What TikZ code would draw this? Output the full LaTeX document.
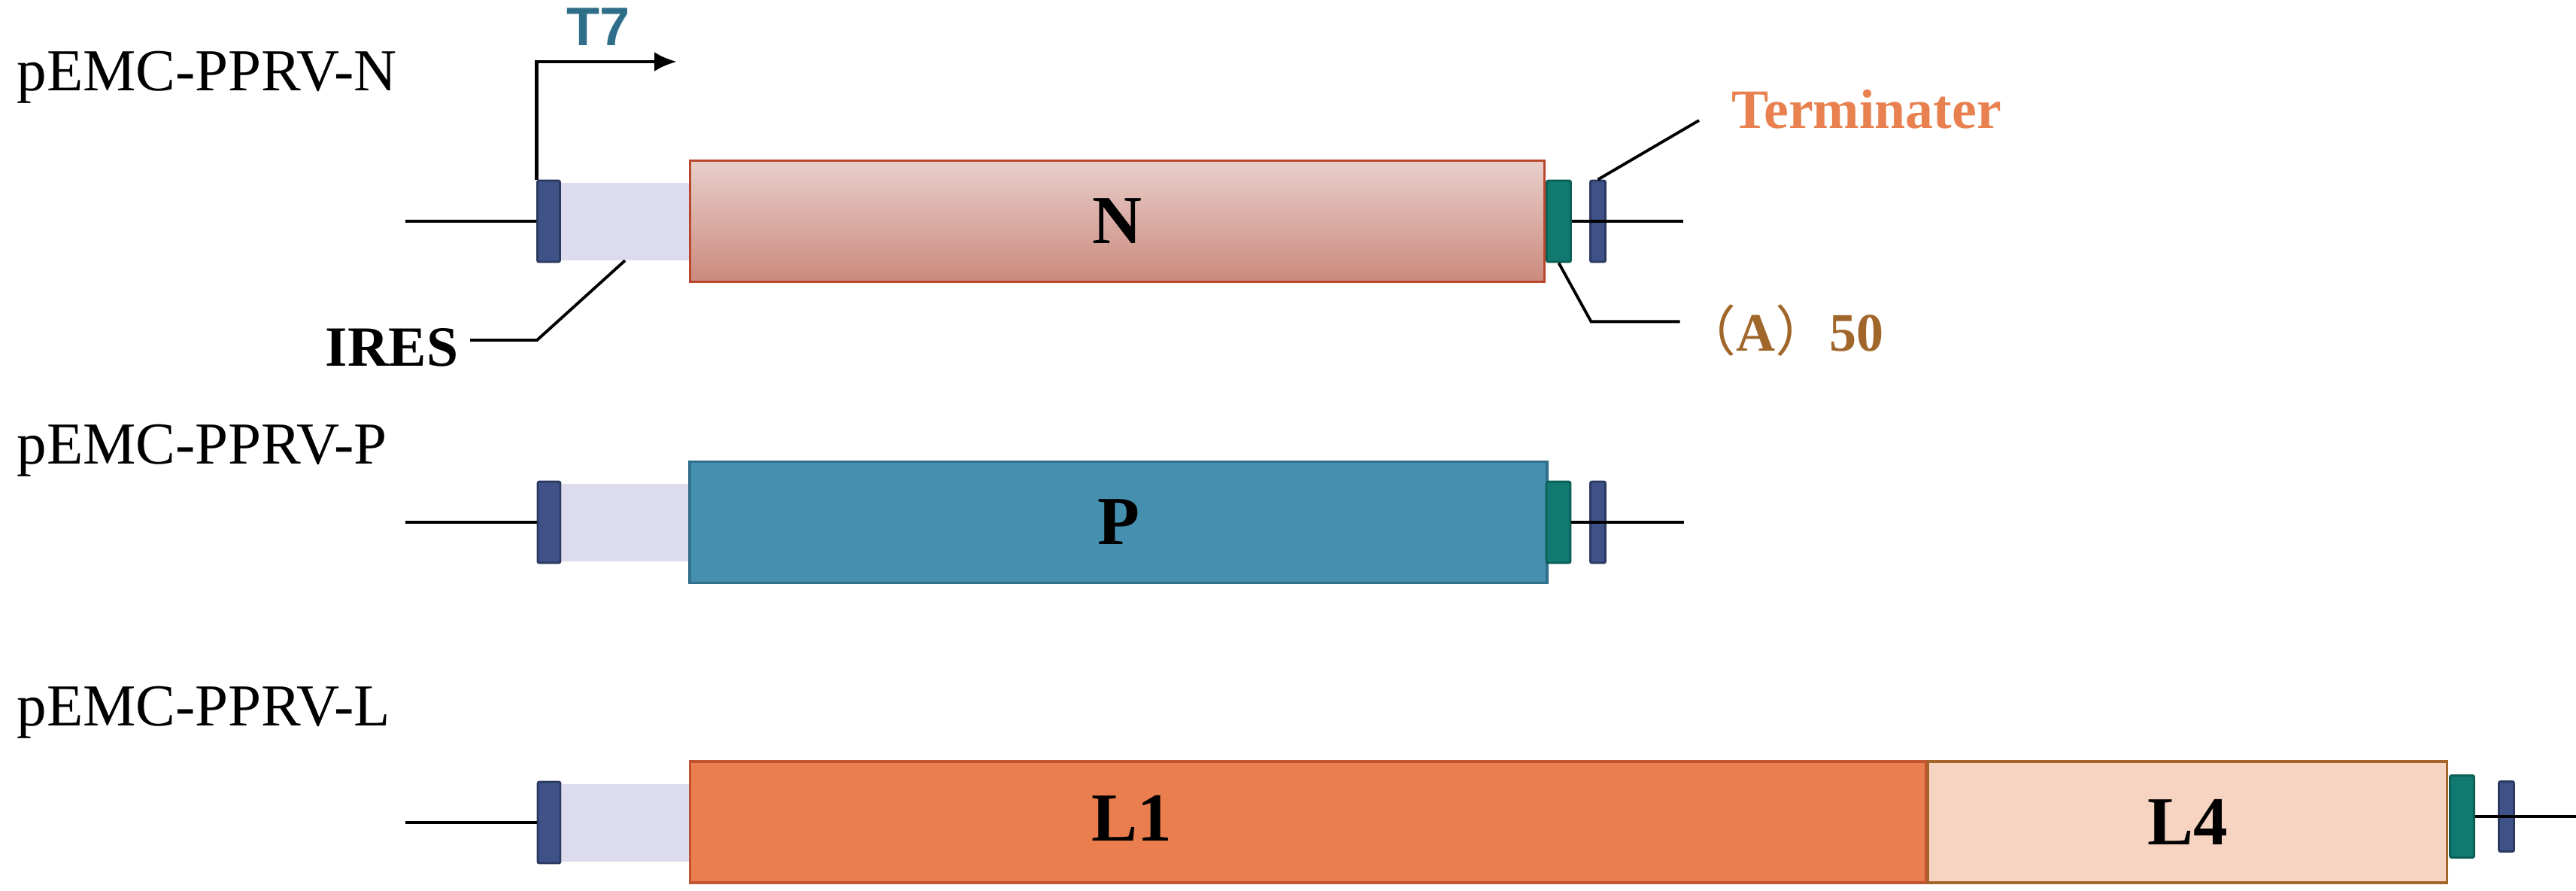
\documentclass[tikz,border=0pt]{standalone}
\usepackage{fontspec}
\setmainfont{Liberation Serif}
\newfontfamily\cjk{Noto Sans CJK SC}
\newfontfamily\tsans{Liberation Sans}
\usetikzlibrary{arrows.meta}
\definecolor{iresF}{HTML}{DDDCEE}
\definecolor{promF}{HTML}{3F5288}
\definecolor{promD}{HTML}{2B3961}
\definecolor{tealF}{HTML}{117A70}
\definecolor{tealD}{HTML}{0B5E56}
\definecolor{Ntop}{HTML}{E8CFCA}
\definecolor{Nbot}{HTML}{CB897D}
\definecolor{Nedge}{HTML}{B9472B}
\definecolor{Pfill}{HTML}{4590AF}
\definecolor{Pedge}{HTML}{31708C}
\definecolor{Lonefill}{HTML}{EB7E4E}
\definecolor{Loneedge}{HTML}{BF5530}
\definecolor{Lfourfill}{HTML}{F7D4C2}
\definecolor{Lfouredge}{HTML}{A4652B}
\definecolor{Tsevenc}{HTML}{2F6E89}
\definecolor{termC}{HTML}{E8814F}
\definecolor{polyC}{HTML}{A0662A}
\begin{document}
\begin{tikzpicture}[y=-1cm,
    prom/.style={draw=promD, fill=promF, line width=0.8pt, rounded corners=0.6pt,
      minimum width=0.30cm, minimum height=1.08cm, inner sep=0pt},
    polya/.style={prom, draw=tealD, fill=tealF, minimum width=0.32cm},
    termbar/.style={prom, minimum width=0.20cm},
    ires/.style={fill=iresF, minimum width=1.70cm, minimum height=1.03cm, inner sep=0pt},
    genetxt/.style={font=\bfseries\fontsize{26}{30}\selectfont},
    gene/.style={genetxt, line width=1pt, minimum height=1.61cm, inner sep=0pt},
    dna/.style={line width=1.1pt},
    lead/.style={line width=1.1pt},
    plasmid/.style={anchor=base west, inner sep=0pt, font=\fontsize{22.5}{26}\selectfont}]
  \useasboundingbox (0,0) rectangle (34.25,11.83);

  % pEMC-PPRV-N
  \node[plasmid] (nameN) at (0.22,1.20) {pEMC-PPRV-N};
  \node[ires] (iN) at (8.31,2.94) {};
  \node[gene, draw=Nedge, top color=Ntop, bottom color=Nbot, minimum width=11.36cm] (N) at (14.855,2.94) {N};
  \node[prom] (pN) at (7.295,2.94) {};
  \node[polya] (aN) at (20.725,2.94) {};
  \node[termbar] (tN) at (21.245,2.94) {};
  \coordinate (lN) at (5.39,2.94);
  \coordinate (rN) at (22.38,2.94);
  \draw[dna] (lN) -- (pN.west);
  \draw[dna] (aN.east) -- (rN);

  \coordinate (tsevtip) at (9.00,0.82);
  \draw[line width=1.4pt, -{Latex[length=0.30cm,width=0.26cm]}] (pN.north west) |- (tsevtip);
  \node[font=\tsans\bfseries\fontsize{20.5}{24}\selectfont, text=Tsevenc] (Tseven) at (7.96,0.36) {T7};

  \node[anchor=east, inner sep=0.15cm, font=\bfseries\fontsize{21.5}{24}\selectfont] (iresL) at (6.25,4.62) {IRES};
  \coordinate (iresk) at (7.14,4.52);
  \draw[lead] (iresL.east |- iresk) -- (iresk) -- (iN.south);

  \node[anchor=west, inner sep=0pt, font=\bfseries\fontsize{21}{24}\selectfont, text=termC] (termL) at (23.02,1.45) {Terminater};
  \coordinate (termk) at (22.59,1.60);
  \draw[lead] (tN.north) -- (termk);

  \node[anchor=west, inner sep=0pt, font=\bfseries\fontsize{20.5}{24}\selectfont, text=polyC] (polyL) at (22.36,4.39) {{\cjk\mdseries （}A{\cjk\mdseries ）}50};
  \draw[lead] (aN.south) -- ++(0.43,0.78) -- ++(1.18,0);

  % pEMC-PPRV-P
  \node[plasmid] (nameP) at (0.22,6.16) {pEMC-PPRV-P};
  \node[ires] (iP) at (8.32,6.94) {};
  \node[gene, draw=Pedge, fill=Pfill, minimum width=11.40cm] (P) at (14.87,6.94) {P};
  \node[prom] (pP) at (7.30,6.94) {};
  \node[polya] (aP) at (20.72,6.94) {};
  \node[termbar] (tP) at (21.245,6.94) {};
  \coordinate (lP) at (5.39,6.94);
  \coordinate (rP) at (22.39,6.94);
  \draw[dna] (lP) -- (pP.west);
  \draw[dna] (aP.east) -- (rP);

  % pEMC-PPRV-L
  \node[plasmid] (nameL) at (0.22,9.64) {pEMC-PPRV-L};
  \node[ires] (iL) at (8.32,10.93) {};
  \node[gene, draw=Loneedge, fill=Lonefill, minimum width=16.43cm] (Lone) at (17.39,10.925) {};
  \node[gene, draw=Lfouredge, fill=Lfourfill, minimum width=6.90cm] (Lfour) at (29.085,10.925) {L4};
  \node[genetxt] (Lonetxt) at (15.05,10.87) {L1};
  \node[prom] (pL) at (7.30,10.93) {};
  \node[polya, minimum height=1.09cm] (aL) at (32.735,10.85) {};
  \node[termbar, minimum height=0.93cm] (tL) at (33.325,10.85) {};
  \coordinate (lL) at (5.39,10.93);
  \coordinate (rL) at (34.25,10.85);
  \draw[dna] (lL) -- (pL.west);
  \draw[dna] (aL.east) -- (rL);
\end{tikzpicture}
\end{document}
